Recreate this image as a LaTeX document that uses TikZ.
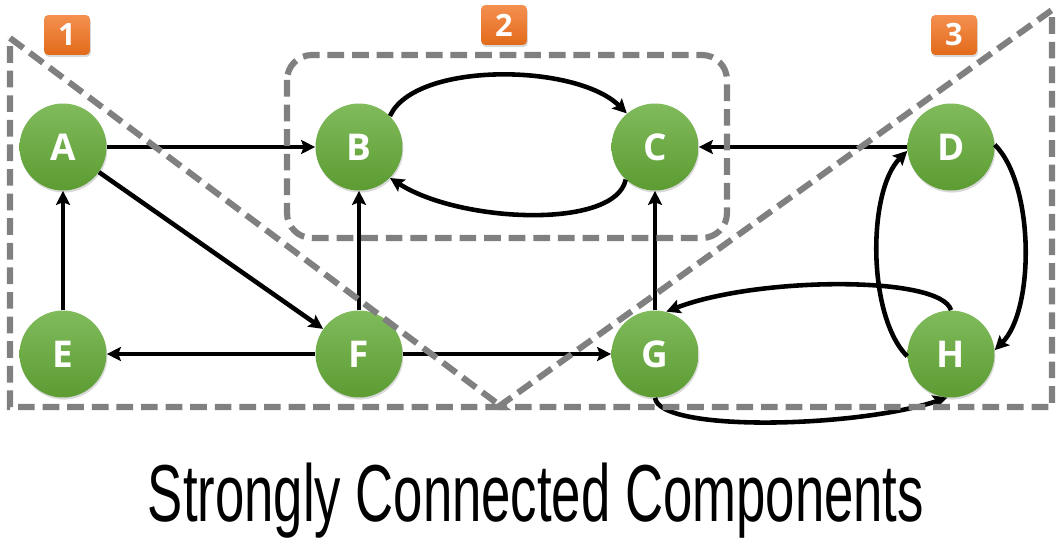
\documentclass[tikz,border=0pt]{standalone}
\usepackage{fontspec}
\setmainfont{Open Sans}
\newfontfamily\titlefont{Liberation Sans}
\usetikzlibrary{arrows.meta,shadows}
\definecolor{vtop}{RGB}{128,187,92}
\definecolor{vbot}{RGB}{92,156,50}
\definecolor{btop}{RGB}{244,144,80}
\definecolor{bbot}{RGB}{226,106,26}
\definecolor{zonegray}{RGB}{128,128,128}

\begin{document}
\begin{tikzpicture}[x=0.02cm, y=0.02cm,
	vertex/.style={circle, minimum size=1.74cm, inner sep=0pt, top color=vtop, bottom color=vbot, drop shadow={opacity=0.3, shadow xshift=0.5pt, shadow yshift=-1.2pt}, text=white, font=\fontsize{21}{21}\selectfont\bfseries},
	badge/.style={rounded corners=2.5pt, minimum width=0.92cm, minimum height=0.8cm, inner sep=0pt, top color=btop, bottom color=bbot, drop shadow={opacity=0.3, shadow xshift=0.5pt, shadow yshift=-1.2pt}, text=white, font=\fontsize{17.5}{17.5}\selectfont\bfseries},
	link/.style={line width=2.6pt, -{Stealth[length=8pt, width=8pt, inset=1.5pt]}},
	region/.style={draw=zonegray, line width=3.5pt, dash pattern=on 9.5pt off 4.5pt}]
	\useasboundingbox (0,0) rectangle (1063,-541);

	\node at (63,-147) [vertex] (A) {A};
	\node at (359,-147) [vertex] (B) {B};
	\node at (655,-147) [vertex] (C) {C};
	\node at (951,-147) [vertex] (D) {D};
	\node at (63,-354) [vertex] (E) {E};
	\node at (359,-354) [vertex] (F) {F};
	\node at (655,-354) [vertex] (G) {G};
	\node at (951,-354) [vertex] (H) {H};

	\draw [link] (A) -- (B);
	\draw [link] (A) -- (F);
	\draw [link] (E) -- (A);
	\draw [link] (F) -- (E);
	\draw [link] (F) -- (B);
	\draw [link] (F) -- (G);
	\draw [link] (G) -- (C);
	\draw [link] (D) -- (C);
	\draw [link] (B.45) .. controls +(25,55) and +(-50,50) .. (C.130);
	\draw [link] (C.228) .. controls +(-10,-50) and +(70,-45) .. (B.-45);
	\draw [link] (D.3) .. controls +(40,-40) and +(40,40) .. (H.5);
	\draw [link] (H.183) .. controls +(-40,40) and +(-40,-40) .. (D.185);
	\draw [link] (H.north) .. controls +(-10,35) and +(90,35) .. (G.75);
	\draw [link] (G.south) .. controls +(5,-35) and +(-90,-30) .. (H.-95);

	% the three components
	\draw [region] (10,-38) -- (502,-407) -- (10,-407) -- cycle;
	\draw [region] (498,-407) -- (1052,-10) -- (1052,-407) -- cycle;
	\draw [region, rounded corners=0.5cm] (287,-55) rectangle (727,-238);

	\node at (67,-35) [badge] (n1) {1};
	\node at (504,-25) [badge] (n2) {2};
	\node at (954,-35) [badge] (n3) {3};

	\node at (536,-521) [anchor=base] (title) {\scalebox{0.652}[1]{\titlefont\fontsize{46}{46}\selectfont Strongly Connected Components}};
\end{tikzpicture}
\end{document}
